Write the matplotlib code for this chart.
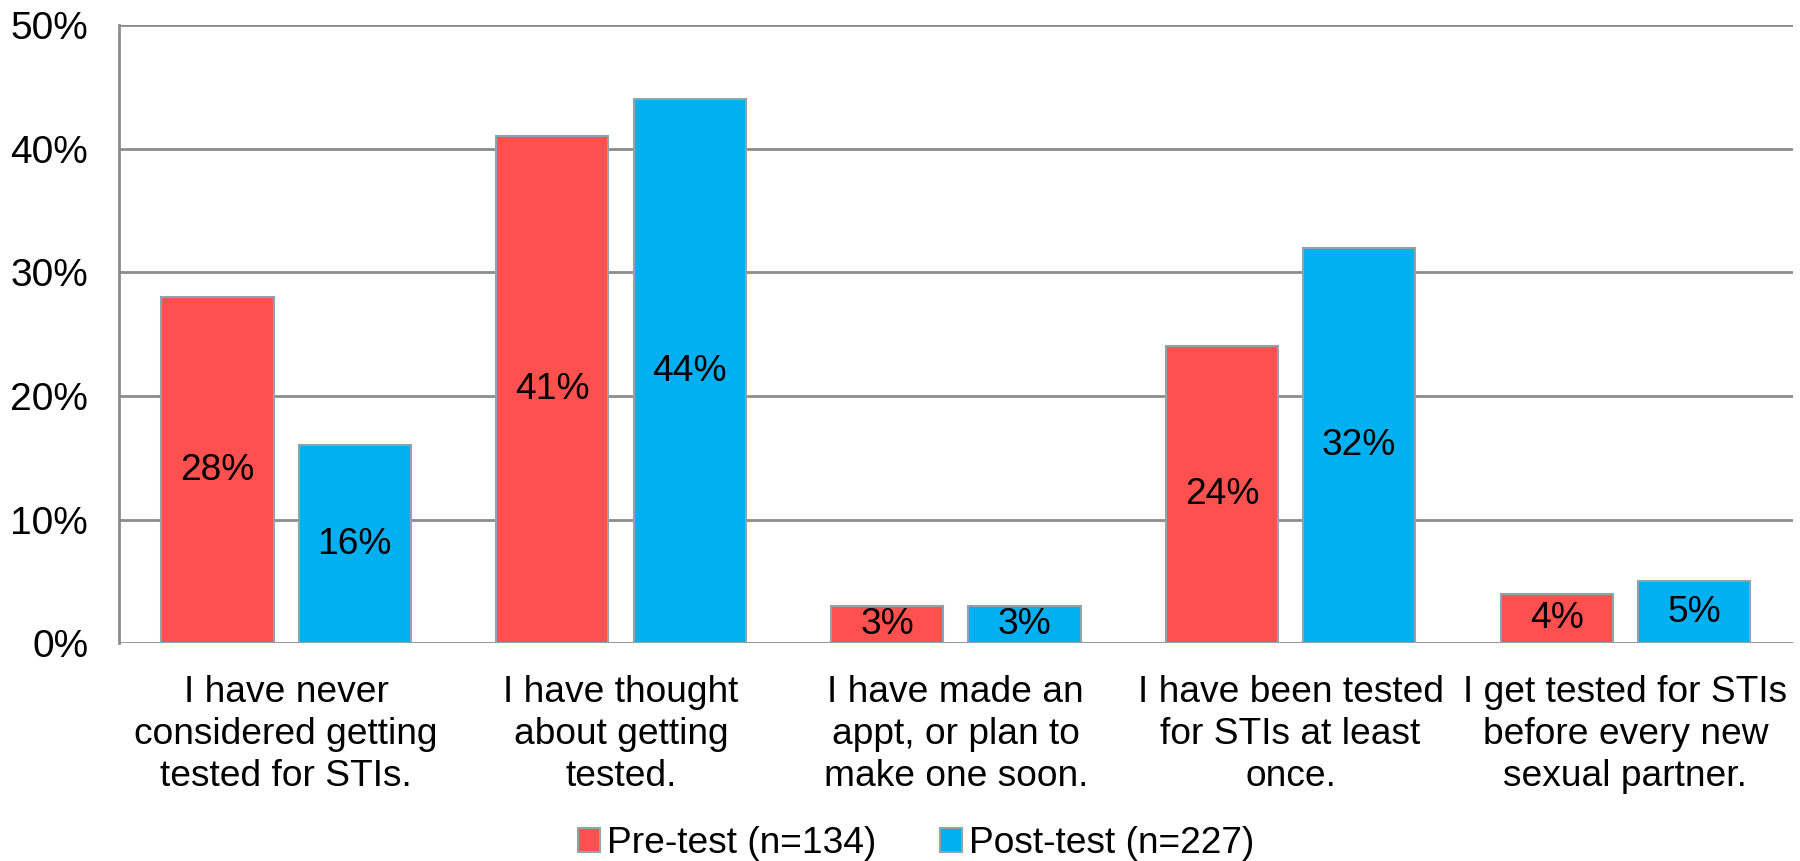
import matplotlib.pyplot as plt
import numpy as np

plt.rcParams['font.family'] = ['Liberation Sans', 'DejaVu Sans']

categories = ["I have never\nconsidered getting\ntested for STIs.",
              "I have thought\nabout getting\ntested.",
              "I have made an\nappt, or plan to\nmake one soon.",
              "I have been tested\nfor STIs at least\nonce.",
              "I get tested for STIs\nbefore every new\nsexual partner."]
pre_test = [28, 41, 3, 24, 4]
post_test = [16, 44, 3, 32, 5]
series_names = ["Pre-test (n=134)", "Post-test (n=227)"]
yticks = [0, 10, 20, 30, 40, 50]

red = '#FF5050'
blue = '#00B0F0'
edge = '#8FA3AD'
grid = '#8C8C8C'
fs = 26.7

fig = plt.figure(figsize=(18, 8.61), dpi=100)
ax = fig.add_axes([0.066, 0.253, 0.93, 0.718])

x = np.arange(len(categories))
w = 0.335
off = 0.205
b1 = ax.bar(x - off, pre_test, w, color=red, edgecolor=edge, linewidth=1.5, label=series_names[0], zorder=3)
b2 = ax.bar(x + off, post_test, w, color=blue, edgecolor=edge, linewidth=1.5, label=series_names[1], zorder=3)

for bars, vals in [(b1, pre_test), (b2, post_test)]:
    for b, v in zip(bars, vals):
        ax.text(b.get_x() + b.get_width() / 2, v / 2, f"{v}%", ha='center', va='center',
                fontsize=fs, color='black', zorder=4)

ax.set_xlim(-0.5, len(categories) - 0.5)
ax.set_ylim(0, 50)
ax.set_yticks(yticks)
ax.set_yticklabels([f"{t}%" for t in yticks], fontsize=28)
ax.set_xticks(x)
ax.set_xticklabels(categories, fontsize=fs, linespacing=1.25)
ax.tick_params(axis='both', length=0)
ax.tick_params(axis='x', pad=23)
ax.tick_params(axis='y', pad=22)

ax.yaxis.grid(True, color=grid, linewidth=2, zorder=0)
for s in ['top', 'right', 'bottom']:
    ax.spines[s].set_visible(False)
ax.spines['left'].set_color(grid)
ax.spines['left'].set_linewidth(2)

fig.legend(handles=[b1, b2], labels=series_names, loc='center', bbox_to_anchor=(0.509, 0.02),
           ncol=2, frameon=False, fontsize=fs, handlelength=0.6, handleheight=0.6,
           handletextpad=0.2, columnspacing=1.7)

fig.savefig('out.png', dpi=100)
